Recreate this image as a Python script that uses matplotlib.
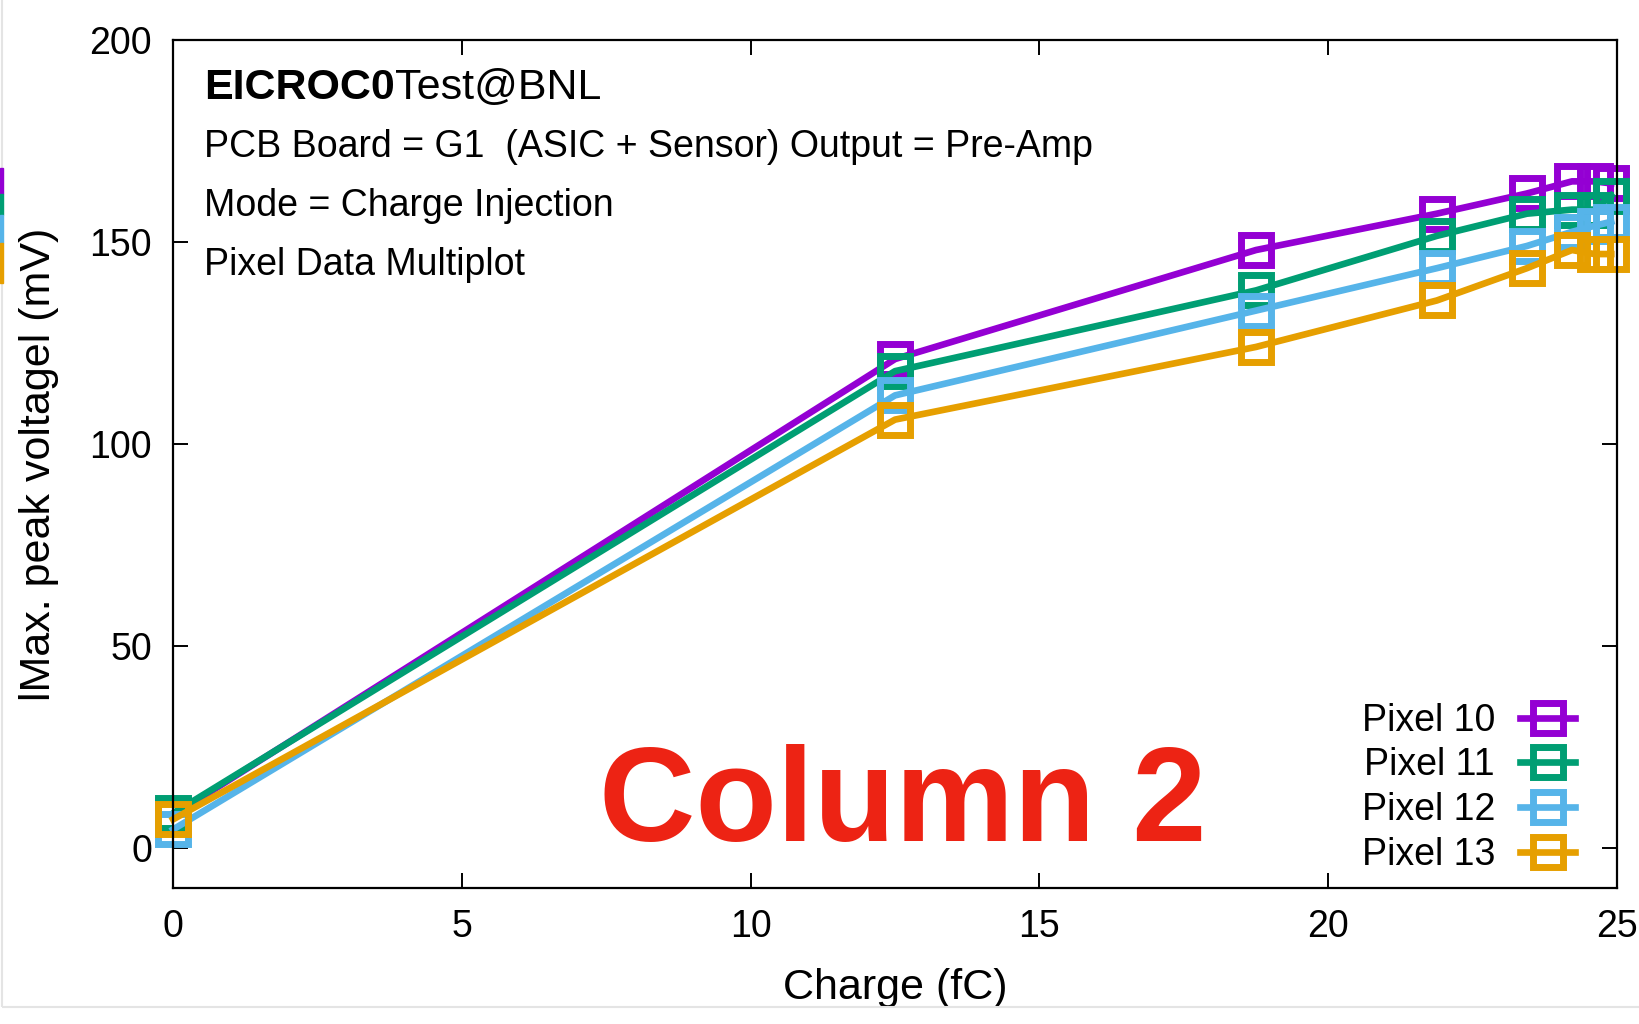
import numpy as np
import matplotlib
matplotlib.use("Agg")
import matplotlib.pyplot as plt
from matplotlib.patches import Rectangle

plt.rcParams['font.family'] = ['Liberation Sans', 'DejaVu Sans']

# charge injected (fC) and peak voltage (mV) for each pixel of column 2
charge = [0, 12.5, 18.75, 21.88, 23.44, 24.22, 24.61, 24.9]
pixel10 = [8, 121, 148, 157, 162, 165, 165, 164.5]
pixel11 = [8.5, 118, 138, 151.5, 157, 158, 158, 161.5]
pixel12 = [4.5, 112, 133, 143.5, 149, 152.5, 154, 155]
pixel13 = [7, 106, 124, 135.5, 143.5, 148, 147, 147]

labels = ["Pixel 10", "Pixel 11", "Pixel 12", "Pixel 13"]
colors = ["#9400D3", "#009E73", "#56B4E9", "#E69F00"]
xticks = [0, 5, 10, 15, 20, 25]
yticks = [0, 50, 100, 150, 200]

fig = plt.figure(figsize=(16.39, 10.24), dpi=100)
ax = fig.add_axes([0.1056, 0.1328, 0.881, 0.8281])

for ys, lab, col in zip([pixel10, pixel11, pixel12, pixel13], labels, colors):
    ax.plot(charge, ys, color=col, lw=4.8, marker="s", markersize=21.5,
            markerfacecolor="none", markeredgecolor=col, markeredgewidth=5,
            label=lab, clip_on=False)

ax.set_xlim(0, 25)
ax.set_ylim(-10, 200)
ax.set_xticks(xticks)
ax.set_yticks(yticks)
ax.tick_params(direction="in", length=11, width=1.4, labelsize=27, pad=15,
               top=True, right=True)
for sp in ax.spines.values():
    sp.set_linewidth(1.6)

ax.set_xlabel("Charge (fC)", fontsize=31, va="center")
ax.xaxis.set_label_coords(0.5, -0.118)
ax.set_ylabel("lMax. peak voltagel (mV)", fontsize=31, va="center")
ax.yaxis.set_label_coords(-0.093, 0.5)

leg = ax.legend(loc="lower right", bbox_to_anchor=(0.971, 0.018), frameon=False,
                markerfirst=False, fontsize=27, handlelength=1.47,
                handletextpad=0.67, labelspacing=0.23, borderaxespad=0,
                borderpad=0)

# header text block
t1 = fig.text(0.1245, 0.9033, "EICROC0", fontsize=31, fontweight="bold", va="baseline")
ax.annotate("Test@BNL", xy=(1, 0), xycoords=t1, fontsize=31, va="bottom", ha="left")
fig.text(0.1245, 0.8467, "PCB Board = G1  (ASIC + Sensor) Output = Pre-Amp", fontsize=27, va="baseline")
fig.text(0.1245, 0.789, "Mode = Charge Injection", fontsize=27, va="baseline")
fig.text(0.1245, 0.7314, "Pixel Data Multiplot", fontsize=27, va="baseline")

fig.text(0.551, 0.1787, "Column 2", fontsize=96, fontweight="bold",
         color="#ED2314", ha="center", va="baseline")

# screenshot edge remnants
fig.add_artist(Rectangle((0.0015, 0.017), 1.0, 1.0, fill=False, edgecolor="#e4e4e4",
                         lw=1.5, transform=fig.transFigure))
for y0, h, c in zip([0.811, 0.790, 0.763, 0.724], [0.025, 0.021, 0.027, 0.039], colors):
    fig.add_artist(Rectangle((0, y0), 0.002, h, color=c, transform=fig.transFigure))

fig.savefig("out.png", dpi=100, facecolor="white")
